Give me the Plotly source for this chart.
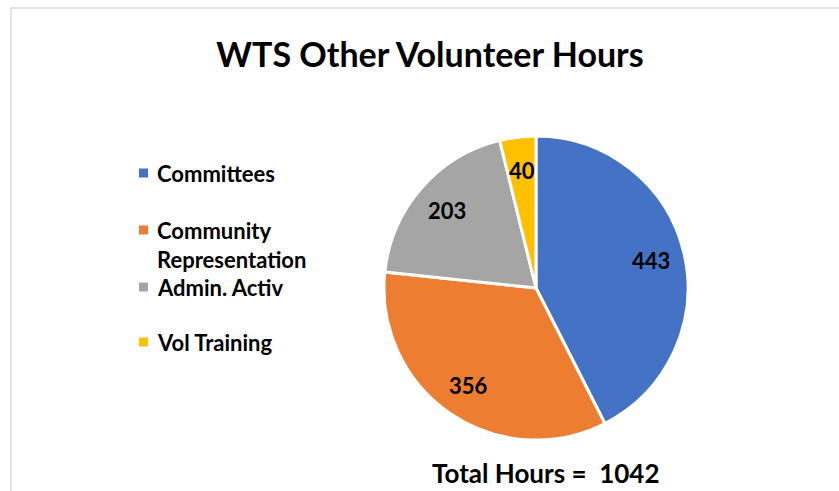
import math
import plotly.graph_objects as go

labels = ["Committees", "Community Representation", "Admin. Activ", "Vol Training"]
legend_labels = ["Committees", "Community<br>Representation", "Admin. Activ", "Vol Training"]
values = [443, 356, 203, 40]
colors = ["#4472C4", "#ED7D31", "#A5A5A5", "#FFC000"]
total = sum(values)

W, H = 839, 491
FONT = "Lato"

# pie geometry (pixels)
CX, CY, R = 536, 288, 152

fig = go.Figure()
fig.add_trace(go.Pie(
    labels=labels, values=values, sort=False, direction="clockwise", rotation=0,
    marker=dict(colors=colors, line=dict(color="white", width=3)),
    textinfo="none",
    domain=dict(x=[(CX-R)/W, (CX+R)/W], y=[1-(CY+R)/H, 1-(CY-R)/H]),
    showlegend=False, hoverinfo="label+value",
))

# data labels placed along each slice's mid-angle (computed from values)
cum = 0
for v in values:
    mid = (cum + v/2) / total * 2*math.pi
    cum += v
    r = 0.78 * R
    px = CX + r*math.sin(mid)
    py = CY - r*math.cos(mid)
    fig.add_annotation(xref="paper", yref="paper", x=px/W, y=1-py/H, text=str(v),
                       showarrow=False, xanchor="center", yanchor="middle",
                       font=dict(family=FONT, size=22, color="black", weight="bold"))

# border
fig.add_shape(type="rect", xref="paper", yref="paper", x0=11/W, x1=1.02, y0=-0.02, y1=1-8/H,
              line=dict(color="#D9D9D9", width=1.5), fillcolor="rgba(0,0,0,0)")

# custom legend
leg_y = [173, 230, 287, 342]
for lab, col, yy in zip(legend_labels, colors, leg_y):
    fig.add_shape(type="rect", xref="paper", yref="paper",
                  x0=139/W, x1=148/W, y0=1-(yy+4.5)/H, y1=1-(yy-4.5)/H,
                  line=dict(width=0), fillcolor=col)
    fig.add_annotation(xref="paper", yref="paper", x=155/W, y=1-(yy-15)/H,
                       text=lab, showarrow=False, xanchor="left", yanchor="top", align="left",
                       font=dict(family=FONT, size=22, color="black", weight="bold"))

fig.add_annotation(xref="paper", yref="paper", x=545/W, y=1-473/H,
                   text=f"Total Hours =  {total}", showarrow=False,
                   xanchor="center", yanchor="middle",
                   font=dict(family=FONT, size=26, color="black", weight="bold"))

fig.update_layout(
    width=W, height=H, margin=dict(l=0, r=0, t=0, b=0),
    paper_bgcolor="white", plot_bgcolor="white",
    title=dict(text="WTS Other Volunteer Hours", x=430/W, xanchor="center",
               y=1-55/H, yanchor="middle",
               font=dict(family=FONT, size=34, color="black", weight="bold")),
)

fig.write_html("out.html", config={"displayModeBar": False},
               post_script="document.body.style.margin='0';")
